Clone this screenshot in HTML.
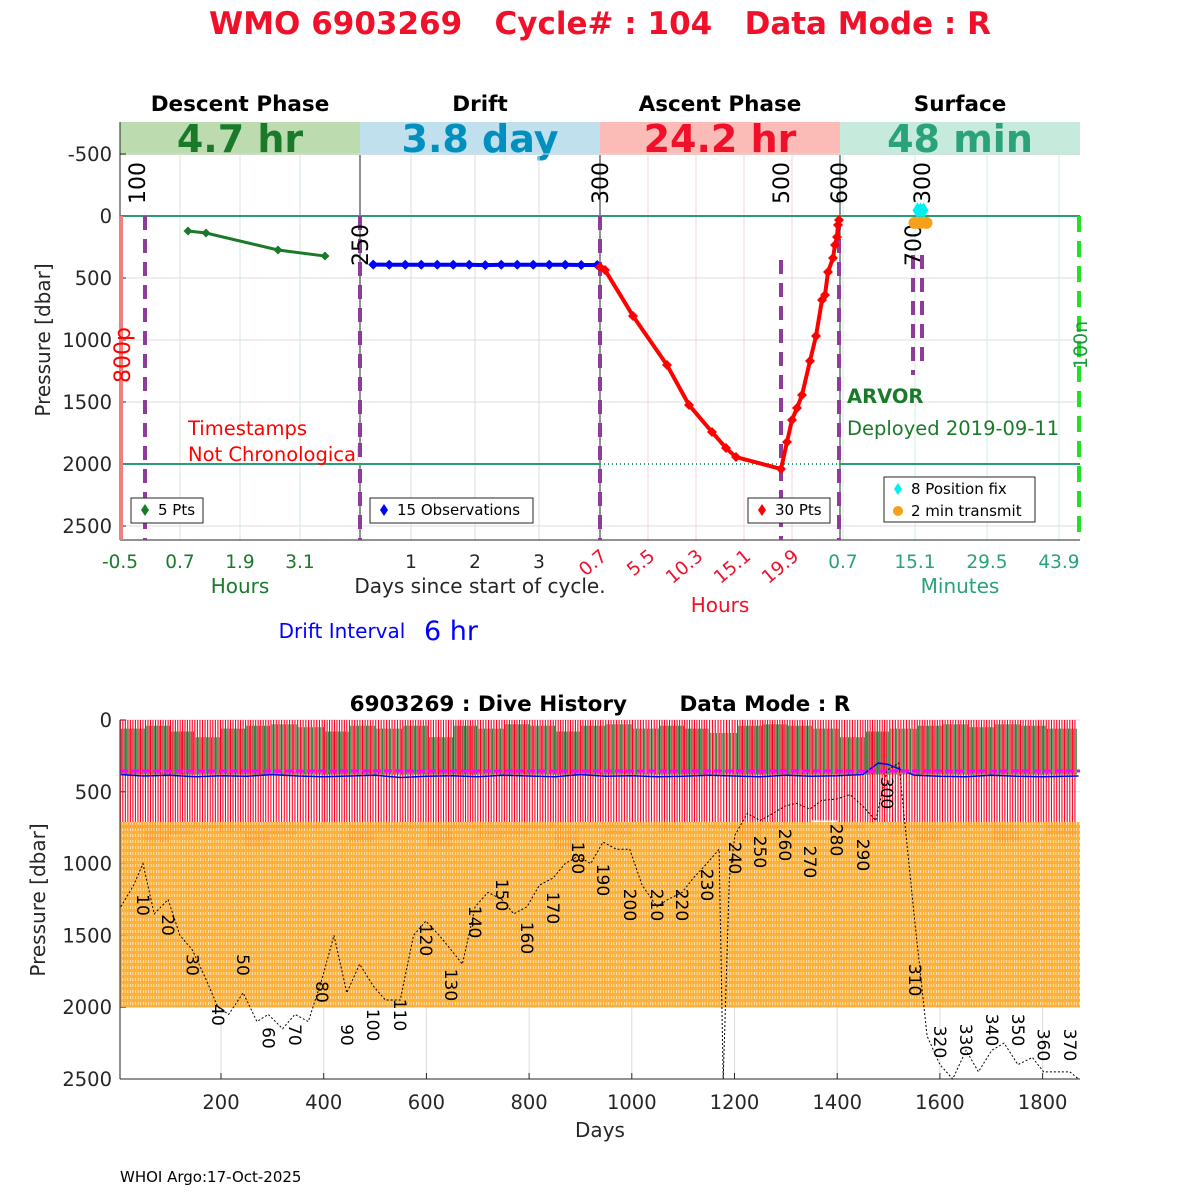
<!DOCTYPE html>
<html><head><meta charset="utf-8"><style>
html,body{margin:0;padding:0;background:#fff;width:1200px;height:1200px;overflow:hidden}
svg text{font-family:"DejaVu Sans","Liberation Sans",sans-serif}
</style></head><body>
<svg id="chart" width="1200" height="1200" viewBox="0 0 1200 1200" xmlns="http://www.w3.org/2000/svg">
<defs>
<pattern id="orangePat" width="2.6" height="6" patternUnits="userSpaceOnUse">
<rect width="2.6" height="6" fill="#fbab2c"/>
<rect x="0" y="0" width="0.6" height="3" fill="#ffffff"/>
</pattern>
</defs>
<text x="600" y="34" text-anchor="middle" font-size="31" font-weight="bold" fill="#f0102a" xml:space="preserve">WMO 6903269   Cycle# : 104   Data Mode : R</text>
<g id="topPanel"></g>
<g id="bottomPanel"></g>
<text x="120" y="1182" font-size="15" fill="#000">WHOI Argo:17-Oct-2025</text>
</svg>
<script>
// ---------- TOP PANEL DATA ----------
const descentHours=[0.86,1.22,2.66,3.6];
const descentPres=[121,137,274,323];
const driftDays=[0.41,0.66,0.91,1.16,1.41,1.66,1.91,2.16,2.41,2.66,2.91,3.16,3.41,3.66,3.91];
const driftPres=[392,393,393,393,393,393,393,396,393,393,393,393,393,395,395];
const ascentHours=[0.7,1.2,4.0,7.4,9.6,11.9,13.3,14.3,18.8,19.4,19.9,20.4,20.9,21.7,22.3,22.9,23.2,23.5,24.0,24.2,24.4,24.5,24.6];
const ascentPres=[411,435,806,1202,1524,1742,1871,1944,2040,1823,1645,1548,1444,1169,968,677,637,452,339,234,169,73,32];
const fixMinutes=[15.6,16.2,16.8];
const fixPres=[-45,-45,-45];
const transmitMinutes=[15.0,16.2,17.4];
const transmitPres=[55,55,55];
const yTicksTop=[-500,0,500,1000,1500,2000,2500];
const descentTicks=[-0.5,0.7,1.9,3.1];
const driftTicks=[1,2,3];
const ascentTicks=[0.7,5.5,10.3,15.1,19.9];
const surfaceTicks=[0.7,15.1,29.5,43.9];

// ---------- BOTTOM PANEL DATA ----------
const labelCycles=[10,20,30,40,50,60,70,80,90,100,110,120,130,140,150,160,170,180,190,200,210,220,230,240,250,260,270,280,290,300,310,320,330,340,350,360,370];
const labelDays=[48,97,144,194,243,292,344,397,445,496,549,599,648,695,747,796,847,895,944,996,1049,1098,1146,1201,1250,1298,1347,1399,1450,1497,1551,1600,1651,1701,1752,1802,1853];
const labelPres=[1288,1428,1706,2054,1706,2214,2193,1894,2193,2124,2054,1532,1845,1407,1219,1518,1309,961,1114,1288,1288,1288,1149,961,919,870,989,836,940,508,1811,2242,2228,2159,2159,2263,2263];
const bathyDays=[5,30,48,70,97,120,144,170,194,215,243,270,292,320,344,370,397,420,445,470,496,520,549,575,599,625,648,670,695,720,747,770,796,820,847,870,895,920,944,970,996,1020,1049,1070,1098,1120,1146,1170,1178,1190,1201,1225,1250,1275,1298,1320,1347,1370,1399,1425,1450,1475,1497,1520,1551,1575,1600,1625,1651,1675,1701,1725,1752,1780,1802,1830,1853,1870];
const bathyPres=[1300,1150,1000,1350,1250,1500,1600,1800,2000,2050,1900,2100,2050,2150,2050,2100,1800,1500,1900,1700,1850,1950,1950,1500,1400,1500,1600,1700,1300,1200,1250,1350,1300,1150,1100,1000,950,1000,850,900,900,1150,1300,1250,1200,1100,1000,900,2500,1100,800,650,700,650,600,580,620,560,550,520,600,700,350,300,1400,2200,2400,2500,2300,2450,2300,2250,2400,2350,2450,2450,2450,2500];
const redEnd=[760,850,800,760,780,880,800,760,720,850,780,760,880,760,820,800,760,900,760,800,740,780,720,760,850,760,720,700,760,720,800,850,760,740,850,720,800];
const greenStart=[60,40,80,120,60,40,30,50,80,40,60,40,120,40,60,30,40,80,40,30,60,40,60,90,40,30,40,60,120,80,60,40,30,50,30,40,60];
const blueDays=[5,50,100,150,200,250,300,350,400,450,500,550,600,650,700,750,800,850,900,950,1000,1050,1100,1150,1200,1250,1300,1350,1400,1450,1480,1500,1550,1600,1650,1700,1750,1800,1870];
const bluePres=[380,390,385,395,388,392,380,390,395,390,385,400,392,388,395,385,390,395,380,392,388,395,392,385,390,395,385,392,388,380,300,310,385,392,395,385,392,395,390];
const bxTicks=[200,400,600,800,1000,1200,1400,1600,1800];
const byTicks=[0,500,1000,1500,2000,2500];

const NS='http://www.w3.org/2000/svg';
function mk(parent,tag,attrs,text){const e=document.createElementNS(NS,tag);for(const k in attrs)e.setAttribute(k,attrs[k]);if(text!==undefined)e.textContent=text;parent.appendChild(e);return e;}

// ---------- TOP PANEL ----------
const tp=document.getElementById('topPanel');
const py=p=>216+p*0.124;
const xDes=h=>120+(h+0.5)*50;
const xDrift=d=>347+d*64;
const xAsc=h=>600+(h-0.7)*10;
const xSurf=m=>843+(m-0.7)*5;
const TOPY=155,BOTY=540;

const bands=[[120,'#bcdcb0','#1a7a2a','4.7 hr','Descent Phase','descent'],[360,'#bfe0ec','#0090c0','3.8 day','Drift','drift'],[600,'#fbbcb8','#f0102a','24.2 hr','Ascent Phase','ascent'],[840,'#c6eadb','#2aa27a','48 min','Surface','surface']];
bands.forEach(b=>{
  let r=mk(tp,'rect',{x:b[0],y:122,width:240,height:33,fill:b[1]});
  
  
  let t=mk(tp,'text',{x:b[0]+120,y:152,'text-anchor':'middle','font-size':38,'font-weight':'bold',fill:b[2]},b[3]);
  
  
  let h=mk(tp,'text',{x:b[0]+120,y:111,'text-anchor':'middle','font-size':21.5,'font-weight':'bold',fill:'#000'},b[4]);
  
  
});
yTicksTop.forEach(v=>{
  let l=mk(tp,'line',{x1:120,x2:1080,y1:py(v),y2:py(v),stroke:'#dcdcdc','stroke-width':1});
  
  
  let t=mk(tp,'text',{x:112,y:py(v)+7,'text-anchor':'end','font-size':19.5,fill:'#262626'},String(v));
  
  
  mk(tp,'line',{x1:120,x2:126,y1:py(v),y2:py(v),stroke:'#262626'});
});
descentTicks.forEach(v=>{const x=xDes(v);mk(tp,'line',{x1:x,x2:x,y1:TOPY,y2:BOTY,stroke:'#d6e8d6'});
  let t=mk(tp,'text',{x:x,y:568,'text-anchor':'middle','font-size':18.5,fill:'#1a7a2a'},String(v));
  });
driftTicks.forEach(v=>{const x=xDrift(v);mk(tp,'line',{x1:x,x2:x,y1:TOPY,y2:BOTY,stroke:'#dcdcdc'});
  let t=mk(tp,'text',{x:x,y:568,'text-anchor':'middle','font-size':18.5,fill:'#262626'},String(v));
  });
ascentTicks.forEach(v=>{const x=xAsc(v);mk(tp,'line',{x1:x,x2:x,y1:TOPY,y2:BOTY,stroke:'#f8d4d4'});
  let t=mk(tp,'text',{x:x+8,y:558,'text-anchor':'end','font-size':18.5,fill:'#f0102a',transform:`rotate(-40 ${x+8} 558)`},String(v));
  });
surfaceTicks.forEach(v=>{const x=xSurf(v);mk(tp,'line',{x1:x,x2:x,y1:TOPY,y2:BOTY,stroke:'#d2ece2'});
  let t=mk(tp,'text',{x:x,y:568,'text-anchor':'middle','font-size':18.5,fill:'#2aa27a'},String(v));
  });
[[240,593,'#1a7a2a','Hours','descent-x-axis-title'],[480,593,'#262626','Days since start of cycle.','drift-x-axis-title'],[720,612,'#f0102a','Hours','ascent-x-axis-title'],[960,593,'#2aa27a','Minutes','surface-x-axis-title']].forEach(a=>{
  let t=mk(tp,'text',{x:a[0],y:a[1],'text-anchor':'middle','font-size':20,fill:a[2]},a[3]);
  });
let yl=mk(tp,'text',{x:50,y:340,'text-anchor':'middle','font-size':20,fill:'#262626',transform:'rotate(-90 50 340)'},'Pressure [dbar]');

let di=mk(tp,'text',{x:342,y:638,'text-anchor':'middle','font-size':20,fill:'#0000ff'},'Drift Interval');

let dv=mk(tp,'text',{x:451,y:640,'text-anchor':'middle','font-size':27,fill:'#0000ff'},'6 hr');

mk(tp,'line',{x1:120,x2:1080,y1:BOTY,y2:BOTY,stroke:'#262626'});
[360,600,840].forEach(x=>{let l=mk(tp,'line',{x1:x,x2:x,y1:TOPY,y2:BOTY,stroke:'#262626'});});
mk(tp,'line',{x1:120,x2:120,y1:122,y2:BOTY,stroke:'#262626'});
[0,2000].forEach(p=>{let l=mk(tp,'line',{x1:120,x2:1080,y1:py(p),y2:py(p),stroke:'#2a9d78','stroke-width':2});});
mk(tp,'rect',{x:601,y:py(2000)-1.5,width:238,height:3,fill:'#fff'});
mk(tp,'line',{x1:600,x2:840,y1:py(2000),y2:py(2000),stroke:'#2a9d78','stroke-width':2,'stroke-dasharray':'1 3'});
let pl=mk(tp,'line',{x1:121,x2:121,y1:216,y2:BOTY,stroke:'#f08080','stroke-width':4});

let pt=mk(tp,'text',{x:130,y:355,'text-anchor':'middle','font-size':22,fill:'#ff0000',transform:'rotate(-90 130 355)'},'800p');

[[145,216,BOTY,'100',145,183],[360,216,BOTY,'250',368,245],[600,216,BOTY,'300',608,183],[781,260,BOTY,'500',789,183],[839,216,BOTY,'600',847,183],[913,255,375,'700',921,245],[922,255,365,'300',930,183]].forEach(m=>{
  let l=mk(tp,'line',{x1:m[0],x2:m[0],y1:m[1],y2:m[2],stroke:'#8e3c9a','stroke-width':4,'stroke-dasharray':'14 9'});
  
  let t=mk(tp,'text',{x:m[4],y:m[5],'text-anchor':'middle','font-size':22,fill:'#000',transform:`rotate(-90 ${m[4]} ${m[5]})`},m[3]);
  
});
let gl=mk(tp,'line',{x1:1079,x2:1079,y1:216,y2:BOTY,stroke:'#22e022','stroke-width':4,'stroke-dasharray':'16 9'});

let gt=mk(tp,'text',{x:1087,y:345,'text-anchor':'middle','font-size':19,fill:'#1a9a3a',transform:'rotate(-90 1087 345)'},'100n');

let ts=mk(tp,'text',{x:188,y:435,'font-size':19.5,fill:'#ff0000'},'Timestamps');

let ts2=mk(tp,'text',{x:188,y:461,'font-size':19.5,fill:'#ff0000'},'Not Chronological');

mk(tp,'rect',{x:358,y:443,width:14,height:20,fill:'#fff'});
mk(tp,'line',{x1:360,x2:360,y1:443,y2:463,stroke:'#8e3c9a','stroke-width':4,'stroke-dasharray':'14 9'});
let ar=mk(tp,'text',{x:847,y:403,'font-size':19.5,'font-weight':'bold',fill:'#1a7a2a'},'ARVOR');

let dep=mk(tp,'text',{x:847,y:435,'font-size':19.5,fill:'#1a7a2a'},'Deployed 2019-09-11');

function series(xs,ps,xf,color,w,name,r){
  const pts=xs.map((v,i)=>xf(v)+','+py(ps[i])).join(' ');
  let l=mk(tp,'polyline',{points:pts,fill:'none',stroke:color,'stroke-width':w});
  
  xs.forEach((v,i)=>{const x=xf(v),y=py(ps[i]);
    let d=mk(tp,'polygon',{points:`${x},${y-r} ${x+r},${y} ${x},${y+r} ${x-r},${y}`,fill:color});
    });
}
series(descentHours,descentPres,xDes,'#1a7a2a',3,'descent',4.5);
series(driftDays,driftPres,xDrift,'#0000ff',4,'drift',5);
series(ascentHours,ascentPres,xAsc,'#ff0000',4,'ascent',5);
fixMinutes.forEach((m,i)=>{const x=xSurf(m),y=py(fixPres[i]);
  let d=mk(tp,'polygon',{points:`${x},${y-8} ${x+5},${y} ${x},${y+8} ${x-5},${y}`,fill:'#00f0f0'});
  });
transmitMinutes.forEach((m,i)=>{
  let c=mk(tp,'circle',{cx:xSurf(m),cy:py(transmitPres[i]),r:6,fill:'#f7a01c'});
  });
function legend(x,y,w,h,items,name){
  let g=mk(tp,'g',{});
  mk(g,'rect',{x:x,y:y,width:w,height:h,fill:'#fff',stroke:'#262626','stroke-width':1});
  items.forEach((it,i)=>{const cy=y+12+i*22;
    if(it[2]==='c')mk(g,'circle',{cx:x+14,cy:cy,r:5,fill:it[0]});
    else mk(g,'polygon',{points:`${x+14},${cy-6} ${x+18},${cy} ${x+14},${cy+6} ${x+10},${cy}`,fill:it[0]});
    mk(g,'text',{x:x+27,y:cy+5,'font-size':15,fill:'#000'},it[1]);});
}
legend(131,498,72,25,[['#1a7a2a','5 Pts']],'descent-legend');
legend(370,498,163,25,[['#0000ff','15 Observations']],'drift-legend');
legend(748,498,82,25,[['#ff0000','30 Pts']],'ascent-legend');
legend(884,477,151,45,[['#00f0f0','8 Position fix'],['#f7a01c','2 min transmit','c']],'surface-legend');

// ---------- BOTTOM PANEL ----------
const bp=document.getElementById('bottomPanel');
const bx=d=>120+(d-3.3)*0.5135;
const by=p=>720+p*0.1436;
const BX0=120,BX1=1080,BY0=720,BY1=1079;
bxTicks.forEach(v=>{mk(bp,'line',{x1:bx(v),x2:bx(v),y1:BY0,y2:BY1,stroke:'#dcdcdc'});
  let t=mk(bp,'text',{x:bx(v),y:1109,'text-anchor':'middle','font-size':19.5,fill:'#262626'},String(v));
  
  mk(bp,'line',{x1:bx(v),x2:bx(v),y1:BY1,y2:BY1-6,stroke:'#262626'});});
byTicks.forEach(v=>{mk(bp,'line',{x1:BX0,x2:BX1,y1:by(v),y2:by(v),stroke:'#dcdcdc'});
  let t=mk(bp,'text',{x:112,y:by(v)+7,'text-anchor':'end','font-size':19.5,fill:'#262626'},String(v));
  
  mk(bp,'line',{x1:BX0,x2:BX0+6,y1:by(v),y2:by(v),stroke:'#262626'});});
function cycleDay(c){
  if(c<=labelCycles[0])return labelDays[0]-(labelCycles[0]-c)*(labelDays[1]-labelDays[0])/10;
  for(let i=0;i<labelCycles.length-1;i++){if(c<=labelCycles[i+1]){const f=(c-labelCycles[i])/(labelCycles[i+1]-labelCycles[i]);return labelDays[i]+f*(labelDays[i+1]-labelDays[i]);}}
  return labelDays[labelDays.length-1]+(c-370)*5;
}
const cyc=document.createElementNS(NS,'g');bp.appendChild(cyc);


for(let c=1;c<=372;c++){
  const d=cycleDay(c);const gi=Math.min(redEnd.length-1,Math.floor((c-1)/10));
  const x=bx(d);
  mk(cyc,'line',{x1:x+1.3,x2:x+1.3,y1:by(greenStart[gi]),y2:by(380),stroke:'#1a7a2a','stroke-width':0.9});
  mk(cyc,'line',{x1:x,x2:x,y1:BY0,y2:by(redEnd[gi]),stroke:'#ff0022','stroke-width':1.1});
}
let ob=mk(bp,'rect',{x:BX0,y:by(710),width:BX1-BX0,height:by(2000)-by(710),fill:'url(#orangePat)','fill-opacity':0.92});

let bl=mk(bp,'polyline',{points:blueDays.map((d,i)=>bx(d)+','+by(bluePres[i])).join(' '),fill:'none',stroke:'#0000ff','stroke-width':1.5});

let mg=mk(bp,'line',{x1:BX0,x2:BX1,y1:by(355),y2:by(355),stroke:'#ff00ff','stroke-width':3,'stroke-dasharray':'8 3'});

let ba=mk(bp,'polyline',{points:bathyDays.map((d,i)=>bx(d)+','+by(Math.min(2500,bathyPres[i]))).join(' '),fill:'none',stroke:'#000','stroke-width':1,'stroke-dasharray':'2 2'});

labelCycles.forEach((c,i)=>{const x=bx(labelDays[i]),y=by(labelPres[i]);
  let t=mk(bp,'text',{x:x,y:y+6,'text-anchor':'middle','font-size':17,fill:'#000',transform:`rotate(90 ${x} ${y})`},String(c));
  });
mk(bp,'line',{x1:BX0,x2:BX0,y1:BY0,y2:BY1,stroke:'#262626'});
mk(bp,'line',{x1:BX0,x2:BX1,y1:BY1,y2:BY1,stroke:'#262626'});
let bt=mk(bp,'text',{x:600,y:711,'text-anchor':'middle','font-size':21.5,'font-weight':'bold',fill:'#000'},'6903269 : Dive History \u00a0\u00a0\u00a0\u00a0\u00a0 Data Mode : R');

let bxl=mk(bp,'text',{x:600,y:1137,'text-anchor':'middle','font-size':20,fill:'#262626'},'Days');

let byl=mk(bp,'text',{x:45,y:900,'text-anchor':'middle','font-size':20,fill:'#262626',transform:'rotate(-90 45 900)'},'Pressure [dbar]');

</script>
</body></html>
